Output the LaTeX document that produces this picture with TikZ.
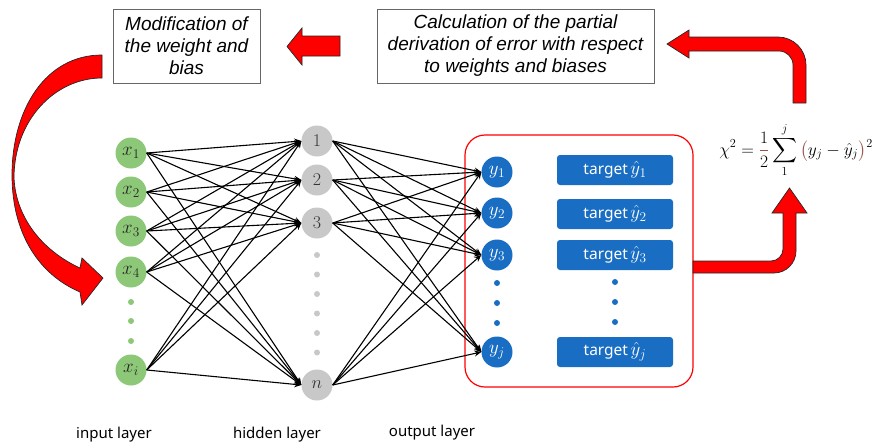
\RequirePackage{fix-cm}
\documentclass[tikz,border=0pt]{standalone}
\usepackage{exscale}
\usepackage{fontspec}
\setsansfont{Noto Sans}
\newfontfamily\arialfont{Liberation Sans}
\usetikzlibrary{arrows.meta, calc}

\definecolor{ingreen}{RGB}{140,200,120}
\definecolor{hidgray}{RGB}{200,200,200}
\definecolor{outblue}{RGB}{25,110,195}
\definecolor{sumbrown}{RGB}{150,85,70}

\newcommand{\tgt}[1]{target\,{\fontsize{19}{19}\selectfont$\hat{y}_{#1}$}}

\begin{document}
\begin{tikzpicture}
  [
  x=1pt, y=-1pt,
  % neurons
  neuronin/.style = {circle,
    fill=ingreen, text=black!85,
    minimum size=31pt, inner sep=0pt,
    font=\fontsize{19}{19}\selectfont},
  neuronhid/.style = {circle,
    fill=hidgray, text=black!80,
    minimum size=31pt, inner sep=0pt,
    font=\fontsize{18}{18}\selectfont},
  neuronout/.style = {circle,
    fill=outblue, text=white,
    minimum size=31pt, inner sep=0pt,
    font=\fontsize{19}{19}\selectfont},
  % target boxes
  targetbox/.style = {rectangle,
    rounded corners=3pt,
    fill=outblue, text=white,
    minimum width=116pt, minimum height=30pt,
    font=\sffamily\fontsize{15.5}{16}\selectfont},
  % text boxes on top
  notebox/.style = {rectangle,
    draw=black!60, line width=0.8pt,
    align=center, inner sep=0pt,
    font=\arialfont\itshape\fontsize{19}{22}\selectfont},
  layerlabel/.style = {font=\sffamily\fontsize{15}{18}\selectfont},
  % line
  line/.style = {draw, line width=1.1pt, -{Stealth[length=7pt, width=6pt]}},
  redarrow/.style = {fill=red, draw=black!85, line width=0.7pt},
  ]
  \useasboundingbox (0,0) rectangle (875,447);

  % nodes
  \node [neuronin] (x1) at (131,153) {$x_1$};
  \node [neuronin] (x2) at (131,192) {$x_2$};
  \node [neuronin] (x3) at (131,231) {$x_3$};
  \node [neuronin] (x4) at (131,272) {$x_4$};
  \node [neuronin] (xi) at (131,370) {$x_i$};

  \node [neuronhid] (h1) at (317,141) {1};
  \node [neuronhid] (h2) at (317,180) {2};
  \node [neuronhid] (h3) at (317,223) {3};
  \node [neuronhid] (hn) at (317,385) {$n$};

  \node [neuronout] (y1) at (497,172) {$y_1$};
  \node [neuronout] (y2) at (497,213) {$y_2$};
  \node [neuronout] (y3) at (497,255) {$y_3$};
  \node [neuronout] (yj) at (497,352) {$y_j$};

  \node [targetbox] (t1) at (615,170) {\tgt{1}};
  \node [targetbox] (t2) at (615,214) {\tgt{2}};
  \node [targetbox] (t3) at (615,255) {\tgt{3}};
  \node [targetbox] (tj) at (615,352) {\tgt{j}};

  % dots
  \foreach \y in {302,321,341} \fill [ingreen] (131,\y) circle (3pt);
  \foreach \y in {255,274.5,294,313.5,333,352.5} \fill [hidgray] (317,\y) circle (3pt);
  \foreach \y in {283,303,323} {
    \fill [outblue] (497,\y) circle (3pt);
    \fill [outblue] (615,\y-1) circle (3pt);
  }

  % output frame
  \draw [red, line width=1.2pt, rounded corners=20pt] (465,135) rectangle (693,387);

  \node [notebox, minimum width=147pt, minimum height=74pt] (modif) at (186.5,46)
    {Modification of\\the weight and\\bias};
  \node [notebox, minimum width=277pt, minimum height=74pt] (calc) at (515.5,46)
    {Calculation of the partial\\derivation of error with respect\\to weights and biases};

  \node (chi) at (796,150) {\fontsize{17.5}{21}\selectfont
    $\displaystyle \chi^2 = {\color{sumbrown}\frac{\color{black}1}{\color{black}2}}
    \sum_1^j {\color{sumbrown}\bigl(}y_j - \hat{y}_j{\color{sumbrown}\bigr)}^2$};

  \node [layerlabel] (inlabel) at (114,435) {input layer};
  \node [layerlabel] (hidlabel) at (277,435) {hidden layer};
  \node [layerlabel] (outlabel) at (432,433) {output layer};

  % path
  \foreach \a in {x1,x2,x3,x4,xi}
    \foreach \b in {h1,h2,h3,hn}
      \path [line] (\a.east) -- (\b.west);
  \foreach \a in {h1,h2,h3,hn}
    \foreach \b in {y1,y2,y3,yj}
      \path [line] (\a.east) -- (\b.west);

  % big red arrows
  \draw [redarrow] (693,261) -- (771,261) .. controls (777.6,261) and (783,255.6) .. (783,249)
    -- (783,213) -- (772,213) -- (789.5,188) -- (807,213) -- (796,213) -- (796,251)
    .. controls (796,263.1) and (786.1,273) .. (774,273) -- (693,273) -- cycle;
  \draw [redarrow] (793,103) -- (793,65) .. controls (793,57.3) and (786.7,51) .. (779,51)
    -- (689,51) -- (689,58) -- (667,44) -- (689,30) -- (689,37) -- (778,37)
    .. controls (793.4,37) and (806,49.6) .. (806,65) -- (806,103) -- cycle;
  \draw [redarrow] (340,36) -- (302,36) -- (302,28) -- (287,46.5) -- (302,65) -- (302,56)
    -- (340,56) -- cycle;
  \draw [redarrow] (102,55) .. controls (45,55) and (12,110) .. (12,175)
    .. controls (12,235) and (40,275) .. (80,292) -- (82,305) -- (103,278) -- (82,258)
    -- (80,268) .. controls (45,252) and (16,220) .. (14,178)
    .. controls (14,120) and (55,78) .. (102,78) -- cycle;

\end{tikzpicture}
\end{document}
